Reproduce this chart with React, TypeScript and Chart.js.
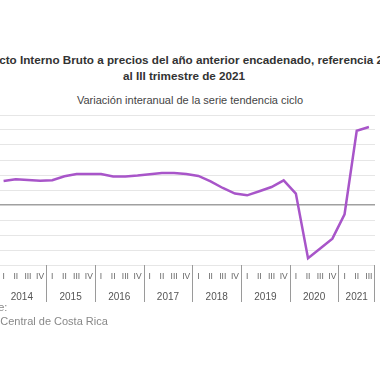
import React, { useEffect, useRef } from "react";
import { Chart, registerables } from "chart.js";

Chart.register(...registerables);

const years = ["2014", "2015", "2016", "2017", "2018", "2019", "2020", "2021"];
const quarterNames = ["I", "II", "III", "IV"];
const quarterLabels = [
  "I", "II", "III", "IV",
  "I", "II", "III", "IV",
  "I", "II", "III", "IV",
  "I", "II", "III", "IV",
  "I", "II", "III", "IV",
  "I", "II", "III", "IV",
  "I", "II", "III", "IV",
  "I", "II", "III",
];
const growth = [
  3.2, 3.43, 3.33, 3.25,
  3.3, 3.83, 4.13, 4.13,
  4.13, 3.79, 3.79, 3.92,
  4.09, 4.27, 4.27, 4.13,
  3.87, 3.16, 2.27, 1.52,
  1.29, 1.83, 2.4, 3.29,
  1.52, -7.11, -5.8, -4.48,
  -1.24, 9.9, 10.4,
];
const yMin = -8;
const yMax = 12;
const yStep = 2;

const FONT = "'Liberation Sans', Arial, sans-serif";

const yearAxisPlugin = {
  id: "yearAxis",
  afterDraw(chart: any) {
    const x = chart.scales.x;
    const area = chart.chartArea;
    const ctx = chart.ctx;
    const n = quarterLabels.length;
    ctx.save();
    ctx.strokeStyle = "#9a9a9a";
    ctx.lineWidth = 1;
    const top = area.bottom;
    const bottom = area.bottom + 37;
    years.forEach((yr, k) => {
      const startV = k * quarterNames.length - 0.5;
      const endV = Math.min((k + 1) * quarterNames.length - 0.5, n - 0.5);
      const x0 = Math.round(x.getPixelForValue(startV)) + 0.5;
      ctx.beginPath();
      ctx.moveTo(x0, top);
      ctx.lineTo(x0, bottom);
      ctx.stroke();
      if (k === years.length - 1) {
        const x1 = Math.round(x.getPixelForValue(endV)) - 0.5;
        ctx.beginPath();
        ctx.moveTo(x1, top);
        ctx.lineTo(x1, bottom);
        ctx.stroke();
      }
      const cx = (x.getPixelForValue(startV) + x.getPixelForValue(endV)) / 2;
      ctx.fillStyle = "#555";
      ctx.font = `10px ${FONT}`;
      ctx.textAlign = "center";
      ctx.textBaseline = "middle";
      ctx.fillText(yr, cx, area.bottom + 32);
    });
    ctx.restore();
  },
};

function LineChart() {
  const ref = useRef<HTMLCanvasElement | null>(null);
  useEffect(() => {
    if (!ref.current) return;
    const chart = new Chart(ref.current, {
      type: "line",
      data: {
        labels: quarterLabels,
        datasets: [
          {
            data: growth,
            borderColor: "#a855c9",
            borderWidth: 2.5,
            pointRadius: 0,
            tension: 0,
            fill: false,
          },
        ],
      },
      options: {
        animation: false,
        responsive: false,
        devicePixelRatio: 1,
        layout: { padding: { left: 37.5, right: 5, top: 15, bottom: 10 } },
        plugins: { legend: { display: false }, tooltip: { enabled: false }, title: { display: false } },
        scales: {
          x: {
            type: "category",
            offset: true,
            grid: { display: false, drawTicks: false },
            border: { display: false },
            ticks: {
              autoSkip: false,
              maxRotation: 0,
              minRotation: 0,
              padding: 7,
              color: "#666",
              font: { size: 8.5, family: FONT },
            },
            afterFit: (s: any) => {
              s.height = 45;
            },
          },
          y: {
            min: yMin,
            max: yMax,
            ticks: { display: false, stepSize: yStep },
            grid: {
              drawTicks: false,
              color: (c: any) => (c.tick && c.tick.value === 0 ? "#a0a0a0" : "#e6e6e6"),
              lineWidth: (c: any) => (c.tick && c.tick.value === 0 ? 1.5 : 1),
            },
            border: { display: false },
            afterFit: (s: any) => {
              s.width = 0;
            },
          },
        },
      },
      plugins: [yearAxisPlugin],
    });
    return () => chart.destroy();
  }, []);
  return (
    <canvas
      ref={ref}
      width={420}
      height={220}
      style={{ position: "absolute", left: -40, top: 100, width: 420, height: 220 }}
    />
  );
}

export default function App() {
  return (
    <div
      style={{
        position: "fixed",
        left: 0,
        top: 0,
        width: 380,
        height: 380,
        overflow: "hidden",
        background: "#fff",
        fontFamily: FONT,
      }}
    >
      <div
        style={{
          position: "absolute",
          left: -116,
          width: 600,
          top: 52,
          textAlign: "center",
          fontWeight: "bold",
          fontSize: 11.7,
          lineHeight: "16px",
          color: "#333",
          whiteSpace: "nowrap",
        }}
      >
        <div>Producto Interno Bruto a precios del año anterior encadenado, referencia 2017</div>
        <div>al III trimestre de 2021</div>
      </div>
      <div
        style={{
          position: "absolute",
          left: -110,
          width: 600,
          top: 93,
          textAlign: "center",
          fontSize: 11,
          lineHeight: "14px",
          color: "#444",
          whiteSpace: "nowrap",
        }}
      >
        Variación interanual de la serie tendencia ciclo
      </div>
      <LineChart />
      <div
        style={{
          position: "absolute",
          left: -30,
          top: 300,
          fontSize: 11,
          lineHeight: "14px",
          color: "#888",
          whiteSpace: "nowrap",
        }}
      >
        Fuente:
      </div>
      <div
        style={{
          position: "absolute",
          left: -34,
          top: 314,
          fontSize: 11,
          lineHeight: "14px",
          color: "#888",
          whiteSpace: "nowrap",
        }}
      >
        Banco Central de Costa Rica
      </div>
    </div>
  );
}
